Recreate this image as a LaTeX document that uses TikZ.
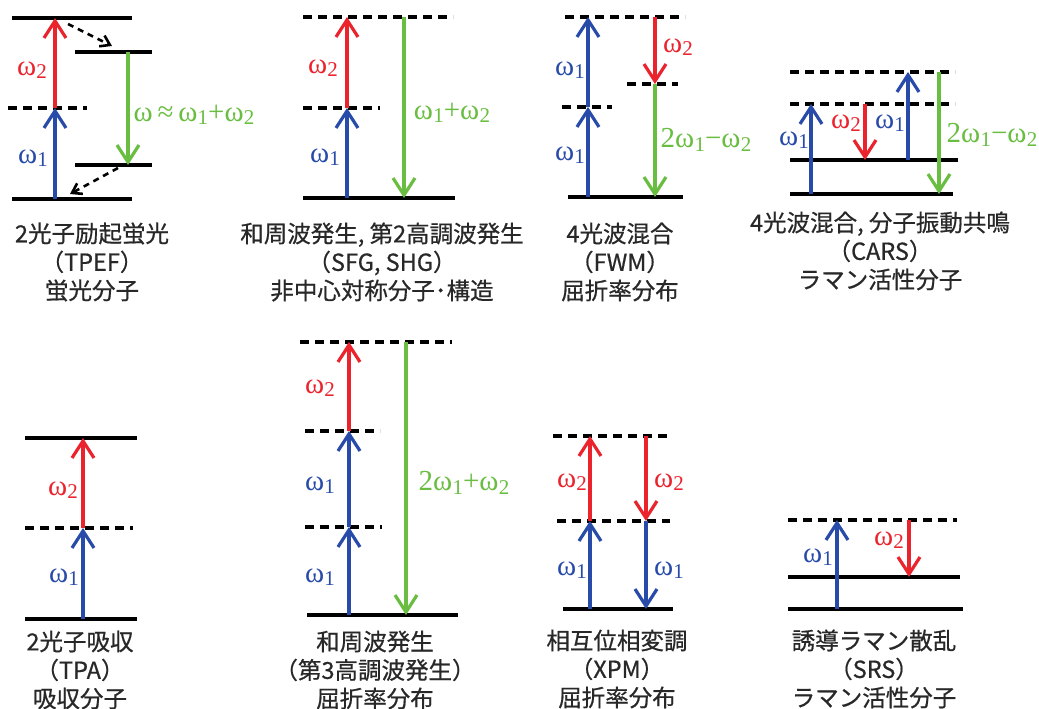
\documentclass[tikz,border=0pt]{standalone}
\usepackage{fontspec}
\setmainfont{Liberation Serif}
\newfontfamily\jp[FakeBold=0.6]{Noto Sans CJK JP}
\usetikzlibrary{arrows.meta}
\definecolor{cblue}{RGB}{40,75,170}
\definecolor{cred}{RGB}{235,35,45}
\definecolor{cgreen}{RGB}{105,190,65}
\definecolor{ctext}{RGB}{40,40,40}
\newcommand{\om}[1]{ω\kern0.01em\raisebox{-0.25ex}{\fontsize{21}{21}\selectfont #1}}
\begin{document}
\begin{tikzpicture}[x=1pt,y=-1pt,
  lvl/.style={line width=3.6pt,black},
  virt/.style={line width=3.6pt,black,dash pattern=on 9pt off 6pt},
  ph/.style={line width=3.2pt,-{Straight Barb[length=17pt,width=22pt,line width=3.2pt]}},
  relax/.style={line width=2.6pt,dash pattern=on 6pt off 5pt,-{Straight Barb[length=9pt,width=12pt,line width=2.6pt]}},
  lbl/.style={font=\fontsize{29}{29}\selectfont,inner sep=0pt},
  captxt/.style={font=\jp\fontsize{23.5}{28.5}\selectfont,align=center,text=ctext,inner sep=0pt}]
\useasboundingbox (0,0) rectangle (1039,709);
\fill[white] (0,0) rectangle (1039,709);

% ---------- Panel 1: TPEF
\draw[lvl] (12,18) coordinate (a1l) -- (132,18) coordinate (a1r);
\draw[lvl] (75,52) coordinate (a2l) -- (152,52) coordinate (a2r);
\draw[virt] (8,108) coordinate (a3l) -- (87,108) coordinate (a3r);
\draw[lvl] (75,165) coordinate (a4l) -- (152,165) coordinate (a4r);
\draw[lvl] (12,199) coordinate (a5l) -- (132,199) coordinate (a5r);
\coordinate (a-g) at (55,199); \coordinate (a-v) at (55,108); \coordinate (a-t) at (55,18);
\coordinate (a-gs) at (128,52); \coordinate (a-ge) at (128,165);
\coordinate (a-r1s) at (68,24); \coordinate (a-r1e) at (112,46);
\coordinate (a-r2s) at (118,168); \coordinate (a-r2e) at (70,194);
\draw[ph,cblue] (a-g) -- (a-v);
\draw[ph,cred] (a-v) -- (a-t);
\draw[ph,cgreen] (a-gs) -- (a-ge);
\draw[relax] (a-r1s) -- (a-r1e);
\draw[relax] (a-r2s) -- (a-r2e);
\node[lbl,text=cred] (a-l2) at (32,70) {\om{2}};
\node[lbl,text=cblue] (a-l1) at (33,158) {\om{1}};
\node[lbl,text=cgreen] (a-l3) at (194,115) {ω\,≈\,\om{1}+\om{2}};
\node[captxt] (a-cap) at (92,262) {2光子励起蛍光\\（TPEF）\\蛍光分子};

% ---------- Panel 2: SFG/SHG
\draw[virt] (303,17) coordinate (b1l) -- (453,17) coordinate (b1r);
\draw[virt] (303,108) coordinate (b2l) -- (380,108) coordinate (b2r);
\draw[lvl] (303,198) coordinate (b3l) -- (455,198) coordinate (b3r);
\coordinate (b-g) at (347,198); \coordinate (b-v) at (347,108); \coordinate (b-t) at (347,17);
\coordinate (b-gs) at (404,17); \coordinate (b-ge) at (404,198);
\draw[ph,cblue] (b-g) -- (b-v);
\draw[ph,cred] (b-v) -- (b-t);
\draw[ph,cgreen] (b-gs) -- (b-ge);
\node[lbl,text=cred] (b-l2) at (323,68) {\om{2}};
\node[lbl,text=cblue] (b-l1) at (325,157) {\om{1}};
\node[lbl,text=cgreen] (b-l3) at (452,113) {\om{1}+\om{2}};
\node[captxt] (b-cap) at (382,262) {和周波発生, 第2高調波発生\\（SFG, SHG）\\非中心対称分子･構造};

% ---------- Panel 3: FWM
\draw[virt] (565,17) coordinate (c1l) -- (685,17) coordinate (c1r);
\draw[virt] (562,107) coordinate (c2l) -- (612,107) coordinate (c2r);
\draw[virt] (627,84) coordinate (c3l) -- (678,84) coordinate (c3r);
\draw[lvl] (568,197) coordinate (c4l) -- (683,197) coordinate (c4r);
\coordinate (c-g) at (588,197); \coordinate (c-v) at (588,107); \coordinate (c-t) at (588,17);
\coordinate (c-rs) at (655,17); \coordinate (c-rv) at (655,84); \coordinate (c-ge) at (655,197);
\draw[ph,cblue] (c-g) -- (c-v);
\draw[ph,cblue] (c-v) -- (c-t);
\draw[ph,cred] (c-rs) -- (c-rv);
\draw[ph,cgreen] (c-rv) -- (c-ge);
\node[lbl,text=cblue] (c-l1) at (570,70) {\om{1}};
\node[lbl,text=cblue] (c-l2) at (570,155) {\om{1}};
\node[lbl,text=cred] (c-l3) at (678,47) {\om{2}};
\node[lbl,text=cgreen] (c-l4) at (706,140) {2\om{1}−\om{2}};
\node[captxt] (c-cap) at (620,262) {4光波混合\\（FWM）\\屈折率分布};

% ---------- Panel 4: CARS
\draw[virt] (790,72) coordinate (d1l) -- (955,72) coordinate (d1r);
\draw[virt] (790,104) coordinate (d2l) -- (955,104) coordinate (d2r);
\draw[lvl] (790,160) coordinate (d3l) -- (958,160) coordinate (d3r);
\draw[lvl] (790,194) coordinate (d4l) -- (953,194) coordinate (d4r);
\coordinate (d-b1s) at (811,194); \coordinate (d-b1e) at (811,104);
\coordinate (d-rs) at (865,104); \coordinate (d-re) at (865,160);
\coordinate (d-b2s) at (908,160); \coordinate (d-b2e) at (908,72);
\coordinate (d-gs) at (939,72); \coordinate (d-ge) at (939,194);
\draw[ph,cblue] (d-b1s) -- (d-b1e);
\draw[ph,cred] (d-rs) -- (d-re);
\draw[ph,cblue] (d-b2s) -- (d-b2e);
\draw[ph,cgreen] (d-gs) -- (d-ge);
\node[lbl,text=cblue] (d-l1) at (794,140) {\om{1}};
\node[lbl,text=cred] (d-l2) at (846,123) {\om{2}};
\node[lbl,text=cblue] (d-l3) at (890,123) {\om{1}};
\node[lbl,text=cgreen] (d-l4) at (992,135) {2\om{1}−\om{2}};
\node[captxt] (d-cap) at (880,251) {4光波混合, 分子振動共鳴\\（CARS）\\ラマン活性分子};

% ---------- Panel 5: TPA
\draw[lvl] (25,438) coordinate (e1l) -- (137,438) coordinate (e1r);
\draw[virt] (25,528) coordinate (e2l) -- (133,528) coordinate (e2r);
\draw[lvl] (25,619) coordinate (e3l) -- (137,619) coordinate (e3r);
\coordinate (e-g) at (83,619); \coordinate (e-v) at (83,528); \coordinate (e-t) at (83,438);
\draw[ph,cblue] (e-g) -- (e-v);
\draw[ph,cred] (e-v) -- (e-t);
\node[lbl,text=cred] (e-l2) at (63,490) {\om{2}};
\node[lbl,text=cblue] (e-l1) at (64,577) {\om{1}};
\node[captxt] (e-cap) at (80,670) {2光子吸収\\（TPA）\\吸収分子};

% ---------- Panel 6: THG
\draw[virt] (300,342) coordinate (f1l) -- (452,342) coordinate (f1r);
\draw[virt] (305,431) coordinate (f2l) -- (380,431) coordinate (f2r);
\draw[virt] (305,527) coordinate (f3l) -- (382,527) coordinate (f3r);
\draw[lvl] (307,615) coordinate (f4l) -- (458,615) coordinate (f4r);
\coordinate (f-g) at (349,615); \coordinate (f-v1) at (349,527); \coordinate (f-v2) at (349,431); \coordinate (f-t) at (349,342);
\coordinate (f-gs) at (406,342); \coordinate (f-ge) at (406,615);
\draw[ph,cblue] (f-g) -- (f-v1);
\draw[ph,cblue] (f-v1) -- (f-v2);
\draw[ph,cred] (f-v2) -- (f-t);
\draw[ph,cgreen] (f-gs) -- (f-ge);
\node[lbl,text=cred] (f-l1) at (320,388) {\om{2}};
\node[lbl,text=cblue] (f-l2) at (320,485) {\om{1}};
\node[lbl,text=cblue] (f-l3) at (320,577) {\om{1}};
\node[lbl,text=cgreen] (f-l4) at (464,483) {2\om{1}+\om{2}};
\node[captxt] (f-cap) at (375,670) {和周波発生\\（第3高調波発生）\\屈折率分布};

% ---------- Panel 7: XPM
\draw[virt] (553,436) coordinate (g1l) -- (670,436) coordinate (g1r);
\draw[virt] (557,521) coordinate (g2l) -- (670,521) coordinate (g2r);
\draw[lvl] (563,609) coordinate (g3l) -- (673,609) coordinate (g3r);
\coordinate (g-g) at (590,609); \coordinate (g-v) at (590,521); \coordinate (g-t) at (590,436);
\coordinate (g-rs) at (646,436); \coordinate (g-rv) at (646,521); \coordinate (g-re) at (646,609);
\draw[ph,cblue] (g-g) -- (g-v);
\draw[ph,cred] (g-v) -- (g-t);
\draw[ph,cred] (g-rs) -- (g-rv);
\draw[ph,cblue] (g-rv) -- (g-re);
\node[lbl,text=cred] (g-l1) at (572,482) {\om{2}};
\node[lbl,text=cred] (g-l2) at (669,482) {\om{2}};
\node[lbl,text=cblue] (g-l3) at (572,570) {\om{1}};
\node[lbl,text=cblue] (g-l4) at (669,570) {\om{1}};
\node[captxt] (g-cap) at (617,669) {相互位相変調\\（XPM）\\屈折率分布};

% ---------- Panel 8: SRS
\draw[virt] (788,520) coordinate (h1l) -- (957,520) coordinate (h1r);
\draw[lvl] (788,577) coordinate (h2l) -- (960,577) coordinate (h2r);
\draw[lvl] (788,609) coordinate (h3l) -- (963,609) coordinate (h3r);
\coordinate (h-bs) at (837,609); \coordinate (h-be) at (837,520);
\coordinate (h-rs) at (909,520); \coordinate (h-re) at (909,577);
\draw[ph,cblue] (h-bs) -- (h-be);
\draw[ph,cred] (h-rs) -- (h-re);
\node[lbl,text=cblue] (h-l1) at (818,557) {\om{1}};
\node[lbl,text=cred] (h-l2) at (889,540) {\om{2}};
\node[captxt] (h-cap) at (874,669) {誘導ラマン散乱\\（SRS）\\ラマン活性分子};
\end{tikzpicture}
\end{document}
